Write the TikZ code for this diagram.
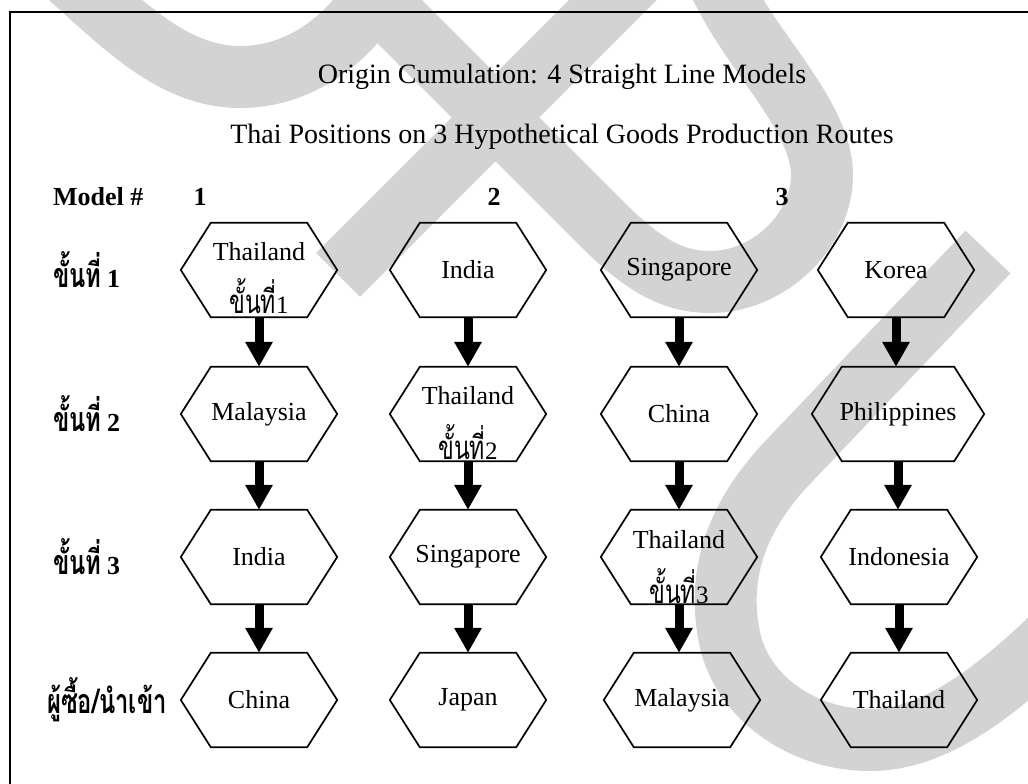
\documentclass[tikz,border=0pt]{standalone}
\usepackage{fontspec}
\setmainfont{Liberation Serif}
\newfontfamily\thai[Script=Thai, FakeStretch=0.7]{Loma}
\usetikzlibrary{arrows.meta}
\definecolor{wm}{RGB}{211,211,211}
\begin{document}
\begin{tikzpicture}[x=1pt,y=-1pt,
  band/.style={line width=62pt, draw=wm},
  frame/.style={line width=2pt, draw=black, line join=miter},
  hexline/.style={draw=black, line width=1.7pt, line join=miter},
  hexa/.style={minimum width=#1, minimum height=94pt, inner sep=0pt},
  hexa/.default=156pt,
  tl/.style={font=\fontsize{26}{30}\selectfont, inner sep=0pt},
  th/.style={font=\fontsize{33}{36}\selectfont, inner sep=0pt},
  ttl/.style={font=\fontsize{28}{32}\selectfont, inner sep=0pt},
  hdr/.style={font=\fontsize{26}{30}\selectfont\bfseries, inner sep=0pt},
  rowlbl/.style={font=\fontsize{34}{38}\selectfont\bfseries, inner sep=0pt, anchor=west},
  arr/.style={line width=9pt, draw=black, -{Triangle[width=26pt,length=25pt]}}]
\useasboundingbox (0,0) rectangle (1028,784);
% watermark
\begin{scope}
\clip (0,0) rectangle (1028,784);
\draw[band] (50,-40) .. controls (110,10) and (165,77) .. (240,77) .. controls (300,77) and (345,40) .. (372,0) -- (402,-45);
\draw[band] (338,-40) -- (600,222) .. controls (640,262) and (670,282) .. (710,282) .. controls (770,282) and (822,230) .. (822,175) .. controls (822,120) and (760,60) .. (728,0) -- (704,-45);
\draw[band] (338,275) -- (645,-32);
\draw[band] (988,252) -- (790,460) .. controls (740,512) and (715,570) .. (730,640) .. controls (742,695) and (800,740) .. (870,740) .. controls (930,740) and (990,700) .. (1070,620);
\end{scope}
% frame
\draw[frame] (1028,12) -- (10,12) -- (10,784);
% titles
\node[ttl] (t1) at (562,77) {Origin Cumulation: 4 Straight Line Models};
\node[ttl] (t2) at (562,137) {Thai Positions on 3 Hypothetical Goods Production Routes};
% header row
\node[hdr, anchor=west] (mh) at (53,197) {Model \#};
\node[hdr] (m1) at (200,197) {1};
\node[hdr] (m2) at (494,197) {2};
\node[hdr] (m3) at (782,197) {3};
% row labels
\node[rowlbl] (r1) at (53,270) {{\thai ขั้นที่}\,{\fontsize{26}{30}\selectfont 1}};
\node[rowlbl] (r2) at (53,414) {{\thai ขั้นที่}\,{\fontsize{26}{30}\selectfont 2}};
\node[rowlbl] (r3) at (53,557) {{\thai ขั้นที่}\,{\fontsize{26}{30}\selectfont 3}};
\node[rowlbl] (r4) at (47,700) {{\thai ผู้ซื้อ/นำเข้า}};
% column 1
\node[hexa, label={[tl,yshift=18pt]center:Thailand}, label={[th,yshift=-26pt]center:{\thai ขั้นที่}{\fontsize{25}{29}\selectfont 1}}] (a1) at (259,270) {};
\node[hexa, label={[tl]center:Malaysia}] (a2) at (259,414) {};
\node[hexa, label={[tl]center:India}] (a3) at (259,557) {};
\node[hexa, label={[tl]center:China}] (a4) at (259,700) {};
% column 2
\node[hexa, label={[tl]center:India}] (b1) at (468,270) {};
\node[hexa, label={[tl,yshift=18pt]center:Thailand}, label={[th,yshift=-28pt]center:{\thai ขั้นที่}{\fontsize{25}{29}\selectfont 2}}] (b2) at (468,414) {};
\node[hexa, label={[tl]center:Singapore}] (b3) at (468,557) {};
\node[hexa, label={[tl]center:Japan}] (b4) at (468,700) {};
% column 3
\node[hexa, label={[tl]center:Singapore}] (c1) at (679,270) {};
\node[hexa, label={[tl]center:China}] (c2) at (679,414) {};
\node[hexa, label={[tl,yshift=17pt]center:Thailand}, label={[th,yshift=-29pt]center:{\thai ขั้นที่}{\fontsize{25}{29}\selectfont 3}}] (c3) at (679,557) {};
\node[hexa, label={[tl]center:Malaysia}] (c4) at (682,700) {};
% column 4
\node[hexa, label={[tl]center:Korea}] (d1) at (896,270) {};
\node[hexa=172pt, label={[tl]center:Philippines}] (d2) at (898,414) {};
\node[hexa, label={[tl]center:Indonesia}] (d3) at (899,557) {};
\node[hexa, label={[tl]center:Thailand}] (d4) at (899,700) {};
% hexagon outlines
\foreach \n in {a1,a2,a3,a4,b1,b2,b3,b4,c1,c2,c3,c4,d1,d2,d3,d4}
  \draw[hexline] (\n.west) -- ([xshift=30pt]\n.north west) -- ([xshift=-30pt]\n.north east) -- (\n.east) -- ([xshift=-30pt]\n.south east) -- ([xshift=30pt]\n.south west) -- cycle;
% arrows
\foreach \p/\q in {a1/a2,a2/a3,a3/a4,b1/b2,b2/b3,b3/b4,c1/c2,c2/c3,c3/c4,d1/d2,d2/d3,d3/d4}
  \draw[arr] (\p.south) -- (\p.south |- \q.north);
\end{tikzpicture}
\end{document}
